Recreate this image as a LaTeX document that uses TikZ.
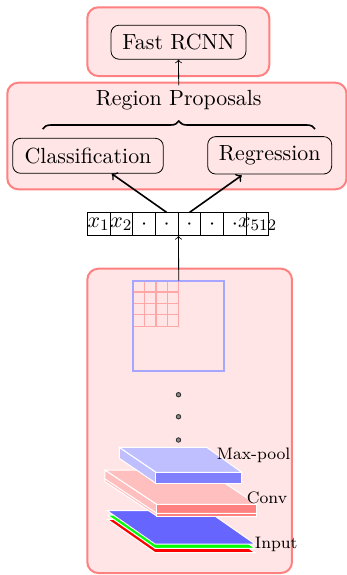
\documentclass[tikz,border=0pt]{standalone}
\usepackage{fontspec}
\usetikzlibrary{decorations.pathreplacing,calc}
\begin{document}
\begin{tikzpicture}[x=0.5pt,y=-0.5pt,
  every node/.style={font=\fontsize{10.95}{13}\selectfont},
  panel/.style={draw=red!50, fill=red!10, line width=1pt, rounded corners=5.5pt},
  rbox/.style={draw, rounded corners=4pt, inner sep=0pt, line width=0.4pt},
  cell/.style={draw, minimum size=11.35pt, inner sep=0pt, line width=0.4pt},
  celltext/.style={inner sep=0pt},
  conn/.style={->, thick},
  gridline/.style={draw=red!35, line width=0.6pt},
  face/.style={draw=white, line width=0.5pt},
  lbl/.style={font=\fontsize{8.3}{10}\selectfont, anchor=west, inner sep=0pt},
  dotc/.style={circle, draw=black!80, fill=black!45, line width=0.45pt, minimum size=2.2pt, inner sep=0pt}]

\useasboundingbox (0,0) rectangle (347,575);

% background panels
\draw[panel] (87.3,7.3) rectangle (269.3,76);
\draw[panel] (7.3,82.7) rectangle (346.5,189.3);
\draw[panel] (87.3,268.7) rectangle (292,573);

% detector heads
\node[rbox, minimum width=67.5pt, minimum height=17pt] (fr) at (178.5,42.2) {Fast RCNN};
\node[inner sep=2pt, anchor=base] (rp) at (178.7,105) {Region Proposals};
\node[rbox, minimum width=75.3pt, minimum height=17.5pt] (cls) at (88,155.8) {Classification};
\node[rbox, minimum width=62pt, minimum height=18.7pt] (reg) at (269.7,155.3) {Regression};
\draw[thick, decorate, decoration={brace, amplitude=4pt}] (42.7,129) -- (315,129);
\draw[->] (rp.north) -- (fr.south);

% feature vector
\foreach \t [count=\i] in {$x_1$,$x_2$,$\cdot$,$\cdot$,$\cdot$,$\cdot$,$\cdot$,$x_{512}$} {
  \node[cell] (c\i) at ({98.65+22.7*(\i-1)},224.2) {};
  \node[celltext] (t\i) at (c\i) {\t};
}
\draw[conn] (c4.north) -- ($(cls.south)+(23.7,0)$);
\draw[conn] (c5.north) -- ($(reg.south)+(-28,1)$);

% feature map with receptive-field grid
\foreach \k in {0,...,4} {
  \draw[gridline] ({133.3+11.35*\k},280.7) -- ({133.3+11.35*\k},326.1);
  \draw[gridline] (133.3,{280.7+11.35*\k}) -- (178.7,{280.7+11.35*\k});
}
\draw[draw=blue!35, line width=1pt] (133.3,280.7) rectangle (224,371.3);
\coordinate (gtop) at (178.7,280.7);
\draw[->] (gtop) -- (c4.south east);

% ellipsis
\node[dotc] (d1) at (178.5,394.7) {};
\node[dotc] (d2) at (178.5,416.7) {};
\node[dotc] (d3) at (178.5,440) {};

% input image: three colour channels
\filldraw[face, fill=red] (107.3,519.3) -- (207.3,519.3) -- (255,552.6) -- (155,552.6) -- cycle;
\filldraw[face, fill=green] (107.3,515) -- (207.3,515) -- (255,548.3) -- (155,548.3) -- cycle;
\filldraw[face, fill=blue!60] (107.3,510.7) -- (207.3,510.7) -- (255,544) -- (155,544) -- cycle;

% convolution slab
\filldraw[face, fill=red!25] (105,470) -- (156.7,504.3) -- (156.7,516) -- (105,481.7) -- cycle;
\filldraw[face, fill=red!50] (156.7,504.3) -- (256.7,504.3) -- (256.7,516) -- (156.7,516) -- cycle;
\filldraw[face, fill=red!25] (105,470) -- (205,470) -- (256.7,504.3) -- (156.7,504.3) -- cycle;
\draw[face] (105,479) -- (156.7,513.3) -- (256.7,513.3);

% max-pool slab
\filldraw[face, fill=blue!25] (119.3,447.3) -- (156,472.3) -- (156,483.3) -- (119.3,458.3) -- cycle;
\filldraw[face, fill=blue!50] (156,472.3) -- (241.7,472.3) -- (241.7,483.3) -- (156,483.3) -- cycle;
\filldraw[face, fill=blue!25] (119.3,447.3) -- (206.7,447.3) -- (241.7,472.3) -- (156,472.3) -- cycle;

% layer labels
\node[lbl] (lmp) at (216.5,455) {Max-pool};
\node[lbl] (lcv) at (246.5,497.5) {Conv};
\node[lbl] (lin) at (254.5,544.5) {Input};
\end{tikzpicture}
\end{document}
